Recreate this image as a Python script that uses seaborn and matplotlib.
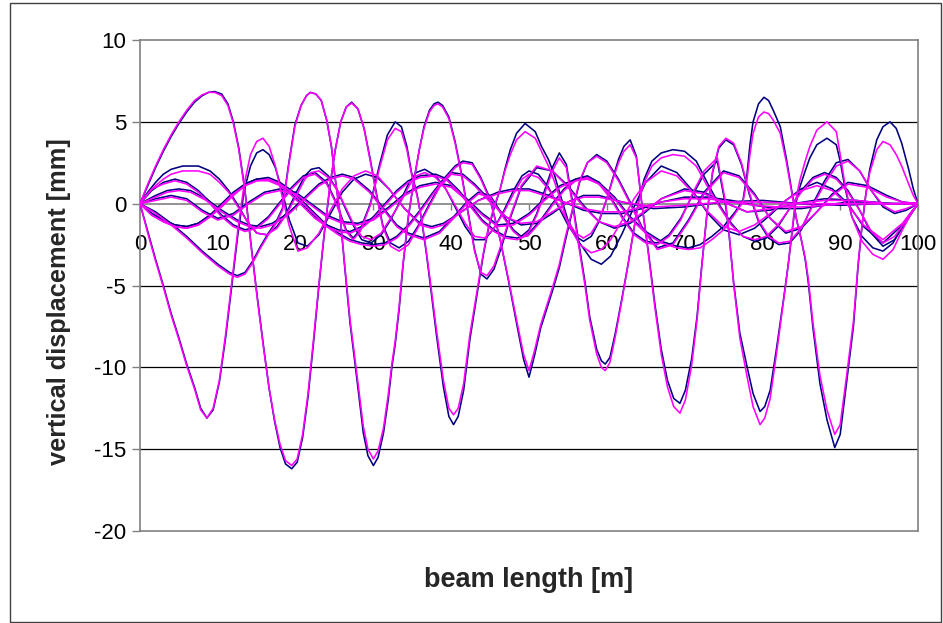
import matplotlib
matplotlib.use("Agg")
import matplotlib.pyplot as plt
from matplotlib.patches import Rectangle
import pandas as pd
import seaborn as sns

# ---- deflection lines of the beam, one pair (measured / computed) per load position ----
x_load1 = [0, 1, 2, 3, 4, 5, 6, 7, 7.8, 8.6, 9.4, 10.2, 11, 11.8, 12.6, 13.4, 14.2, 15, 15.8, 16.6,
           17.4, 18.2, 19.2, 20.3, 21.5, 23, 24.5, 26, 27.5, 29, 30.5, 32, 34, 36, 37.5, 39, 41, 43.5, 46, 48,
           50, 52, 54.5, 57, 59.5, 62, 64.5, 67, 70, 73, 76, 79, 82, 85, 88, 91, 94, 97, 100]
measured_load1 = [0, -1.7, -3.4, -5.0, -6.7, -8.2, -9.8, -11.2, -12.5, -13.1, -12.6, -10.9, -8.2, -5.0, -1.8, 0.8, 2.3, 3.1, 3.3, 3.0,
                  2.2, 0.9, -1.0, -2.4, -2.6, -1.9, -0.6, 0.7, 1.5, 1.8, 1.6, 0.9, -0.3, -1.2, -1.4, -1.2, -0.6, 0.2, 0.7, 0.9,
                  0.9, 0.6, 0.1, -0.4, -0.6, -0.6, -0.3, 0.1, 0.4, 0.4, 0.2, -0.1, -0.3, -0.3, -0.1, 0.1, 0.1, 0.0, 0]
computed_load1 = [0, -1.8, -3.5, -5.1, -6.8, -8.3, -9.9, -11.3, -12.6, -13.1, -12.5, -10.8, -8.0, -4.8, -1.5, 1.2, 3.0, 3.8, 4.0, 3.5,
                  2.3, 0.6, -1.4, -2.9, -2.7, -1.8, -0.4, 0.9, 1.7, 2.0, 1.7, 0.9, -0.3, -1.3, -1.5, -1.3, -0.6, 0.2, 0.6, 0.8,
                  0.8, 0.5, 0.1, -0.3, -0.5, -0.5, -0.2, 0.1, 0.3, 0.3, 0.1, -0.1, -0.2, -0.2, -0.1, 0.0, 0.0, 0.0, 0]

x_load2 = [0, 1, 2, 3, 4, 5, 6, 7, 8, 8.8, 9.6, 10.5, 11.3, 12, 12.7, 13.5, 14.3, 15.1, 15.9, 16.6,
           17.3, 18, 18.7, 19.5, 20.2, 20.9, 21.6, 22.3, 23, 23.7, 24.4, 25.1, 25.8, 26.5, 27.2, 28, 28.8, 29.6, 30.4, 31.2,
           32.2, 33.3, 34.5, 35.7, 37, 38.5, 40, 41.5, 43, 45, 47, 49, 51, 53, 55, 57, 59, 62, 66, 70,
           75, 80, 85, 90, 95, 100]
measured_load2 = [0, 1.1, 2.2, 3.2, 4.1, 4.9, 5.6, 6.2, 6.6, 6.8, 6.85, 6.7, 6.1, 5.0, 3.4, 0.8, -2.6, -5.8, -8.8, -11.3,
                  -13.3, -14.9, -15.9, -16.2, -15.8, -14.3, -11.8, -8.5, -5.0, -1.8, 1.0, 3.3, 5.0, 5.9, 6.2, 5.8, 4.6, 2.7, 0.6, -1.3,
                  -2.4, -2.7, -2.3, -1.4, -0.2, 1.1, 1.9, 1.8, 1.2, 0.2, -0.8, -1.3, -1.2, -0.6, 0.1, 0.5, 0.5, 0.1, -0.3, -0.2,
                  0.1, 0.2, 0.0, -0.1, 0.0, 0]
computed_load2 = [0, 1.2, 2.3, 3.3, 4.2, 5.0, 5.7, 6.3, 6.65, 6.8, 6.8, 6.6, 6.0, 4.9, 3.3, 0.7, -2.7, -5.9, -8.9, -11.3,
                  -13.2, -14.7, -15.7, -16.0, -15.6, -14.1, -11.6, -8.3, -4.9, -1.7, 1.1, 3.3, 5.0, 5.9, 6.15, 5.8, 4.6, 2.6, 0.5, -1.4,
                  -2.6, -2.9, -2.5, -1.5, -0.3, 1.0, 1.8, 1.7, 1.1, 0.1, -0.8, -1.2, -1.1, -0.5, 0.1, 0.4, 0.4, 0.1, -0.2, -0.1,
                  0.1, 0.1, 0.0, 0.0, 0.0, 0]

x_load3 = [0, 2, 4, 6, 8, 10, 11.5, 12.5, 13.5, 14.5, 15.5, 16.5, 17.5, 18.3, 19.1, 19.9, 20.7, 21.4, 21.9, 22.6,
           23.3, 24, 24.6, 25.1, 25.7, 26.3, 27, 27.9, 28.7, 29.3, 30, 30.6, 31.3, 31.9, 32.4, 32.8, 33.3, 33.8, 34.5, 35.2,
           35.9, 36.5, 37.2, 37.8, 38.3, 38.9, 39.7, 40.5, 41.3, 42.2, 43, 43.8, 44.6, 45.5, 46.5, 47.5, 49, 51, 53, 55,
           57, 59, 61, 63, 65, 67, 70, 72.5, 75, 78, 81, 84, 88, 92, 96, 100]
measured_load3 = [0, -0.5, -1.2, -2.0, -2.9, -3.7, -4.2, -4.4, -4.2, -3.5, -2.6, -1.8, -1.1, -0.3, 2.4, 4.8, 6.0, 6.6, 6.8, 6.7,
                  6.3, 5.1, 3.5, 1.5, -0.6, -3.8, -7.3, -10.8, -14.0, -15.4, -16.0, -15.5, -14.0, -12.0, -9.9, -8.6, -6.5, -3.8, -0.8, 1.4,
                  3.3, 4.7, 5.7, 6.1, 6.2, 6.0, 5.3, 3.8, 1.9, -0.6, -2.8, -4.3, -4.6, -4.0, -2.6, -1.0, 1.0, 2.2, 2.0, 1.1,
                  -0.1, -1.1, -1.5, -1.2, -0.5, 0.3, 0.9, 0.7, 0.1, -0.5, -0.4, 0.0, 0.3, 0.2, 0.0, 0]
computed_load3 = [0, -0.6, -1.3, -2.1, -3.0, -3.8, -4.3, -4.5, -4.3, -3.6, -2.7, -1.9, -1.2, -0.4, 2.3, 4.7, 6.0, 6.6, 6.8, 6.7,
                  6.3, 5.1, 3.5, 1.5, -0.6, -3.7, -7.1, -10.5, -13.6, -15.0, -15.6, -15.1, -13.7, -11.7, -9.7, -8.4, -6.3, -3.7, -0.7, 1.4,
                  3.3, 4.6, 5.6, 6.0, 6.1, 5.9, 5.2, 3.7, 1.8, -0.7, -2.9, -4.2, -4.4, -3.8, -2.4, -0.9, 1.1, 2.3, 2.0, 1.0,
                  -0.2, -1.1, -1.4, -1.1, -0.4, 0.3, 0.8, 0.6, 0.1, -0.5, -0.3, 0.0, 0.2, 0.2, 0.0, 0]

x_load4 = [0, 1.5, 3, 4.5, 6, 7.5, 9, 10.5, 12, 13.5, 15, 16.5, 18, 19.5, 21, 22.5, 24, 25.3, 26.5, 27.4,
           28.3, 29.6, 30.8, 31.8, 32.8, 33.6, 34.3, 34.9, 35.6, 36.2, 36.8, 37.3, 38.1, 39, 39.7, 40.3, 40.9, 41.6, 42.4, 43.3,
           44.1, 44.8, 45.5, 46.3, 46.9, 47.6, 48.4, 49.5, 50.8, 51.6, 52.5, 53.3, 54.2, 55, 56.5, 58, 59.3, 60.5, 62, 63.5,
           65, 67, 69, 71, 73, 75, 77, 79, 81, 83, 85, 87, 89, 91, 93, 95.5, 98, 100]
measured_load4 = [0, 0.8, 1.3, 1.5, 1.3, 0.8, 0.1, -0.7, -1.3, -1.6, -1.4, -0.8, 0.1, 1.0, 1.7, 1.9, 1.3, 0.0, -1.6, -2.1,
                  -1.6, 0.0, 2.4, 4.2, 5.0, 4.7, 3.5, 1.9, 0.6, -1.0, -3.0, -4.9, -8.0, -11.2, -13.0, -13.5, -13.0, -11.4, -8.3, -5.6,
                  -3.2, -1.5, -0.3, 0.9, 2.1, 3.3, 4.3, 4.9, 4.4, 3.5, 2.7, 1.7, 0.25, -1.0, -2.4, -3.4, -3.7, -3.2, -1.8, -0.2,
                  1.3, 2.3, 1.9, 0.8, -0.6, -1.6, -1.9, -1.5, -0.7, 0.2, 0.9, 1.3, 0.9, 0.0, -1.4, -2.4, -1.3, 0]
computed_load4 = [0, 0.9, 1.2, 1.4, 1.2, 0.7, 0.0, -0.8, -1.4, -1.7, -1.5, -0.9, 0.0, 0.9, 1.6, 1.8, 1.2, -0.1, -1.7, -2.2,
                  -1.7, -0.1, 2.2, 3.9, 4.6, 4.4, 3.3, 1.8, 0.5, -0.9, -2.9, -4.7, -7.7, -10.8, -12.5, -12.9, -12.5, -11.0, -8.0, -5.4,
                  -3.1, -1.4, -0.2, 0.9, 2.0, 3.0, 3.9, 4.4, 4.0, 3.2, 2.3, 1.3, 0.0, -1.2, -2.5, -3.0, -2.8, -2.2, -1.0, 0.3,
                  1.3, 2.0, 1.7, 0.7, -0.5, -1.4, -1.7, -1.3, -0.6, 0.2, 0.8, 1.1, 0.8, -0.1, -1.3, -2.2, -1.2, 0]

x_load5 = [0, 1.5, 3, 4.5, 6, 7.5, 9, 10.5, 12, 13.5, 15, 16.5, 18, 19.5, 21, 22.5, 24, 25.5, 27, 28.5,
           30, 31.5, 33, 34.5, 36, 37.5, 39, 40.5, 41.5, 42.7, 43.8, 45, 46.3, 47.4, 48.4, 49.3, 50, 50.7, 51.5, 52.3,
           53.1, 53.9, 54.7, 55.6, 56.5, 57.5, 58.7, 60, 61.5, 63, 64.5, 66.5, 68.5, 70.5, 72.5, 75, 77, 79, 81, 83,
           85, 87, 89, 91, 93.5, 96, 98, 100]
measured_load5 = [0, -0.6, -1.0, -1.3, -1.4, -1.2, -0.7, -0.1, 0.6, 1.2, 1.5, 1.6, 1.3, 0.8, 0.1, -0.6, -1.3, -1.8, -2.2, -2.4,
                  -2.5, -2.4, -2.0, -1.3, -0.4, 0.6, 1.5, 2.3, 2.6, 2.5, 1.6, 0.3, -2.2, -4.8, -7.3, -9.5, -10.6, -9.3, -7.6, -6.4,
                  -5.2, -3.9, -2.2, -0.4, 1.3, 2.5, 3.0, 2.6, 1.5, 0.1, -1.4, -2.7, -2.4, -1.0, 0.7, 2.0, 1.7, 0.6, -0.9, -1.8,
                  -1.5, -0.5, 0.6, 1.3, 1.1, 0.5, 0.1, 0]
computed_load5 = [0, -0.7, -1.1, -1.4, -1.5, -1.3, -0.8, -0.2, 0.5, 1.1, 1.4, 1.5, 1.2, 0.7, 0.0, -0.7, -1.4, -1.9, -2.3, -2.5,
                  -2.6, -2.5, -2.1, -1.4, -0.5, 0.5, 1.4, 2.2, 2.5, 2.4, 1.5, 0.2, -2.2, -4.7, -7.1, -9.2, -10.2, -9.0, -7.4, -6.2,
                  -5.0, -3.7, -2.0, -0.3, 1.4, 2.5, 2.9, 2.5, 1.4, 0.0, -1.5, -2.8, -2.5, -1.1, 0.6, 1.9, 1.6, 0.5, -0.9, -1.7,
                  -1.4, -0.5, 0.5, 1.2, 1.0, 0.4, 0.1, 0]

x_load6 = [0, 2, 3.5, 5, 6.5, 8.5, 10.5, 12.5, 14, 15.5, 17, 19, 21, 23, 24.5, 26, 27.5, 29.5, 31.5, 33,
           34.5, 36.5, 38.5, 40.5, 42, 43.5, 45, 46.5, 48, 49, 50, 51, 52, 53, 53.9, 54.8, 55.7, 56.3, 57.2, 57.8,
           58.7, 59.3, 59.8, 60.4, 61.1, 61.9, 62.7, 63.4, 64.1, 64.8, 65.8, 67, 68.5, 70, 71.5, 73, 74.5, 76, 77.5, 79,
           80.5, 82, 83.5, 85, 86.5, 88, 89.5, 91, 92.5, 94, 95.5, 97, 98.5, 100]
measured_load6 = [0, 0.5, 0.8, 0.9, 0.8, 0.3, -0.4, -1.0, -1.3, -1.4, -1.2, -0.6, 0.3, 1.2, 1.6, 1.8, 1.6, 0.8, -0.4, -1.3,
                  -1.8, -2.1, -1.7, -0.7, 0.1, 0.7, 0.5, -0.6, -1.6, -2.0, -1.6, -0.6, 0.8, 2.2, 3.1, 2.4, -0.2, -2.1, -4.8, -6.9,
                  -8.9, -9.6, -9.8, -9.4, -7.9, -5.9, -3.8, -1.8, 0.2, 1.5, 2.6, 3.1, 3.3, 3.2, 2.6, 1.2, -0.1, -1.2, -2.0, -2.3,
                  -2.1, -1.4, -0.3, 0.8, 1.6, 1.9, 1.6, 0.8, -0.4, -1.8, -2.6, -2.2, -1.1, 0]
computed_load6 = [0, 0.4, 0.7, 0.8, 0.7, 0.2, -0.5, -1.1, -1.4, -1.5, -1.3, -0.7, 0.2, 1.1, 1.5, 1.7, 1.5, 0.7, -0.5, -1.4,
                  -1.9, -2.2, -1.8, -0.8, 0.0, 0.6, 0.4, -0.7, -1.7, -2.1, -1.7, -0.7, 0.6, 2.0, 2.8, 2.2, -0.4, -2.3, -5.0, -7.1,
                  -9.2, -10.0, -10.2, -9.7, -8.1, -6.0, -3.8, -1.8, 0.1, 1.3, 2.3, 2.8, 3.0, 2.9, 2.3, 1.0, -0.2, -1.3, -2.0, -2.2,
                  -2.0, -1.3, -0.3, 0.7, 1.5, 1.8, 1.5, 0.7, -0.4, -1.7, -2.4, -2.0, -1.0, 0]

x_load7 = [0, 1, 2, 3, 4, 5.5, 7.5, 9, 10.2, 11.4, 12.6, 13.8, 15, 16.3, 17.6, 18.9, 20.2, 21.2, 22, 23,
           24.2, 25.4, 26.5, 27.5, 28.5, 29.7, 31, 32.2, 33.5, 34.6, 35.5, 36.6, 38, 39.3, 40.5, 41.8, 43, 44.3, 45.5, 46.8,
           48, 49.1, 50, 51.2, 52.5, 53.8, 55, 56, 57, 58, 59, 60, 60.8, 61.5, 62.2, 63, 63.8, 64.5, 65.3, 66.2,
           67, 67.8, 68.6, 69.4, 70.1, 70.9, 71.6, 72.2, 72.9, 73.6, 74.4, 75.3, 76.3, 77.3, 78.3, 79.5, 80.8, 82.1, 83.5, 85,
           86.5, 88, 89.5, 91, 92.5, 94, 95.5, 97, 98.5, 100]
measured_load7 = [0, 0.7, 1.3, 1.8, 2.1, 2.3, 2.3, 2.0, 1.5, 0.8, -0.1, -1.1, -1.8, -1.9, -1.4, -0.5, 0.8, 1.7, 2.1, 2.2,
                  1.7, 0.8, -0.4, -1.4, -2.2, -2.4, -1.9, -1.0, 0.2, 1.3, 1.9, 2.1, 1.7, 0.9, -0.2, -1.4, -2.2, -2.2, -1.5, -0.4,
                  0.8, 1.7, 2.0, 1.8, 1.0, -0.2, -1.3, -2.0, -2.3, -2.0, -1.1, 0.3, 1.6, 2.7, 3.5, 3.9, 2.9, 0.0, -2.8, -6.2,
                  -8.9, -10.8, -11.9, -12.2, -11.4, -9.5, -6.9, -3.8, -0.5, 1.9, 3.4, 3.9, 3.6, 2.4, 0.6, -1.1, -2.1, -2.5, -2.4, -1.6,
                  0.0, 1.4, 2.5, 2.7, 2.0, 0.8, -0.2, -0.6, -0.4, 0]
computed_load7 = [0, 0.6, 1.1, 1.5, 1.8, 2.0, 2.0, 1.8, 1.3, 0.7, -0.2, -1.1, -1.8, -1.9, -1.5, -0.6, 0.6, 1.5, 1.9, 2.0,
                  1.6, 0.8, -0.3, -1.3, -2.0, -2.2, -1.8, -0.9, 0.1, 1.1, 1.7, 1.9, 1.6, 0.9, -0.1, -1.2, -2.0, -2.1, -1.5, -0.5,
                  0.6, 1.5, 1.8, 1.6, 0.9, -0.1, -1.1, -1.8, -2.1, -1.8, -1.0, 0.3, 1.5, 2.5, 3.2, 3.6, 2.8, 0.0, -2.9, -6.4,
                  -9.2, -11.2, -12.4, -12.8, -12.0, -9.9, -7.1, -3.9, -0.5, 2.0, 3.5, 4.0, 3.7, 2.5, 0.7, -1.0, -2.0, -2.4, -2.3, -1.5,
                  -0.1, 1.2, 2.3, 2.6, 2.0, 0.8, -0.1, -0.5, -0.3, 0]

x_load8 = [0, 1.5, 3, 4.5, 6, 7.5, 9, 10.5, 12, 13.5, 15, 16.5, 18, 19.5, 21, 22.5, 24, 25.5, 27, 28.5,
           30, 31.5, 33, 34.5, 36, 38, 39.5, 41, 42.5, 44, 45.5, 47, 48.5, 50, 51.5, 53, 54.5, 56, 57.5, 59,
           60.5, 62, 63.5, 65, 66.5, 68, 69.5, 71, 72.5, 74.2, 75.3, 75.7, 76.3, 77.1, 78, 78.8, 79.7, 80.3, 81, 81.8,
           82.7, 83.3, 83.8, 84.2, 84.8, 85.5, 86.1, 87, 88.3, 89.5, 90, 90.6, 91.5, 92.8, 94.2, 95.5, 96.8, 98, 99, 100]
measured_load8 = [0, -0.6, -1.0, -1.3, -1.4, -1.2, -0.7, 0.0, 0.7, 1.2, 1.5, 1.5, 1.2, 0.6, -0.1, -0.8, -1.3, -1.6, -1.7, -1.4,
                  -0.8, 0.0, 0.8, 1.4, 1.7, 1.8, 1.5, 0.8, -0.1, -1.0, -1.6, -2.0, -2.1, -1.8, -1.0, 0.0, 0.9, 1.5, 1.7, 1.3,
                  0.4, -0.8, -1.8, -2.3, -2.4, -1.9, -0.9, 0.5, 1.8, 2.6, -0.2, -1.8, -4.8, -7.9, -9.9, -11.6, -12.7, -12.4, -11.4, -8.9,
                  -5.9, -3.8, -1.8, -0.2, 1.0, 2.0, 2.8, 3.6, 4.0, 3.6, 2.6, 1.0, -0.8, -2.0, -2.7, -2.9, -2.4, -1.3, -0.6, 0]
computed_load8 = [0, -0.7, -1.1, -1.4, -1.5, -1.3, -0.8, -0.1, 0.6, 1.1, 1.4, 1.4, 1.1, 0.5, -0.2, -0.9, -1.4, -1.7, -1.8, -1.5,
                  -0.9, -0.1, 0.7, 1.3, 1.6, 1.7, 1.4, 0.7, -0.2, -1.1, -1.7, -2.1, -2.2, -1.9, -1.1, -0.1, 0.8, 1.4, 1.6, 1.2,
                  0.3, -0.9, -1.9, -2.4, -2.5, -2.0, -1.0, 0.6, 2.0, 2.8, 0.0, -1.7, -4.9, -8.2, -10.5, -12.4, -13.5, -13.1, -11.9, -9.2,
                  -6.0, -3.8, -1.7, 0.0, 1.4, 2.6, 3.5, 4.5, 5.0, 4.4, 3.0, 1.2, -0.8, -2.3, -3.1, -3.4, -2.8, -1.6, -0.7, 0]

x_load9 = [0, 2, 4, 6, 8, 10, 12, 14, 16, 18, 20, 22, 24, 26, 28, 30, 32, 34, 36, 38,
           40, 42, 44, 46, 48, 50, 52, 54, 56, 57.5, 59, 61, 63, 65, 67, 69, 70.5, 72, 73.5, 75,
           76.5, 77.5, 78, 78.4, 78.8, 79.5, 80.2, 80.8, 81.4, 82.3, 83.1, 83.8, 84.4, 85, 85.5, 85.9, 86.5, 87.4, 88.3, 89.3,
           90, 90.8, 91.7, 92.3, 92.8, 93.3, 93.8, 94.7, 95.5, 96.4, 97.2, 97.9, 98.8, 99.4, 100]
measured_load9 = [0, 0.3, 0.5, 0.3, -0.4, -0.9, -0.6, 0.1, 0.7, 0.9, 0.7, 0.0, -0.7, -1.1, -1.2, -0.9, -0.2, 0.6, 1.1, 1.3,
                  1.1, 0.3, -0.6, -1.3, -1.2, -0.6, 0.3, 1.1, 1.5, 1.6, 1.3, 0.4, -0.8, -1.7, -2.3, -2.6, -2.7, -2.5, -2.0, -1.4,
                  -0.5, 0.2, 1.7, 3.6, 5.0, 6.1, 6.5, 6.3, 5.7, 4.7, 2.7, 0.7, -1.0, -2.2, -3.4, -4.8, -7.6, -11.0, -13.2, -14.9,
                  -14.1, -11.0, -7.5, -3.8, -1.4, 0.6, 2.1, 3.9, 4.7, 5.0, 4.6, 3.7, 2.1, 0.9, 0]
computed_load9 = [0, 0.2, 0.4, 0.2, -0.5, -1.0, -0.7, 0.0, 0.6, 0.8, 0.6, -0.1, -0.8, -1.2, -1.3, -1.0, -0.3, 0.5, 1.0, 1.2,
                  1.0, 0.2, -0.7, -1.4, -1.3, -0.7, 0.2, 1.0, 1.4, 1.5, 1.2, 0.3, -0.9, -1.8, -2.4, -2.7, -2.8, -2.7, -2.2, -1.6,
                  -0.6, 0.1, 1.4, 3.0, 4.3, 5.3, 5.6, 5.5, 5.1, 4.3, 2.5, 0.6, -1.0, -2.2, -3.3, -4.6, -7.3, -10.5, -12.6, -14.1,
                  -13.5, -10.6, -7.2, -3.7, -1.3, 0.6, 1.9, 3.3, 3.8, 3.6, 3.0, 2.3, 1.2, 0.5, 0]

x_ticks = [0, 10, 20, 30, 40, 50, 60, 70, 80, 90, 100]
y_ticks = [-20, -15, -10, -5, 0, 5, 10]
x_title = "beam length [m]"
y_title = "vertical displacement [mm]"

load_cases = [
    ("load 1", x_load1, measured_load1, computed_load1),
    ("load 2", x_load2, measured_load2, computed_load2),
    ("load 3", x_load3, measured_load3, computed_load3),
    ("load 4", x_load4, measured_load4, computed_load4),
    ("load 5", x_load5, measured_load5, computed_load5),
    ("load 6", x_load6, measured_load6, computed_load6),
    ("load 7", x_load7, measured_load7, computed_load7),
    ("load 8", x_load8, measured_load8, computed_load8),
    ("load 9", x_load9, measured_load9, computed_load9),
]

rows = []
for name, xs, meas, comp in load_cases:
    assert len(xs) == len(meas) == len(comp), name
    for xv, yv in zip(xs, meas):
        rows.append({"x": xv, "y": yv, "series": "measured", "load": name})
    for xv, yv in zip(xs, comp):
        rows.append({"x": xv, "y": yv, "series": "computed", "load": name})
df = pd.DataFrame(rows)

sns.set_style("white")
plt.rcParams["font.family"] = ["Liberation Sans", "DejaVu Sans"]

W, H = 943, 623
fig = plt.figure(figsize=(W / 100, H / 100), dpi=100)
fig.patch.set_facecolor("white")
ax = fig.add_axes([140 / W, (H - 531) / H, 778 / W, 491 / H])

# horizontal gridlines
for yv in (5, -5, -10, -15):
    ax.axhline(yv, color="black", lw=0.9, zorder=0.5)
ax.axhline(-20, color="#808080", lw=1.2, zorder=0.6, clip_on=False)

sns.lineplot(data=df, x="x", y="y", hue="series", units="load", estimator=None, sort=False,
             hue_order=["measured", "computed"],
             palette={"measured": "#000080", "computed": "#FF00FF"},
             legend=False, lw=1.15, ax=ax, zorder=3)

ax.set_xlim(0, 100)
ax.set_ylim(-20, 10)
ax.set_xticks(x_ticks)
ax.set_yticks(y_ticks)
ax.set_xticklabels([str(v) for v in x_ticks])
ax.set_yticklabels([str(v) for v in y_ticks])
ax.set_xlabel("")
ax.set_ylabel("")

for side in ("top", "right", "left", "bottom"):
    ax.spines[side].set_color("#808080")
    ax.spines[side].set_linewidth(1.2)
ax.spines["bottom"].set_position(("data", 0))
ax.spines["bottom"].set_zorder(2)

ax.tick_params(axis="y", direction="out", length=6, width=1, color="#808080",
               labelsize=16, labelcolor="black", pad=4, left=True)
ax.tick_params(axis="x", direction="out", length=4, width=1, color="#808080",
               labelsize=16, labelcolor="black", pad=18, bottom=True)

fig.text(529 / W, 1 - 587 / H, x_title, ha="center", va="baseline",
         fontsize=19.5, fontweight="bold")
fig.text(59 / W, 1 - 302 / H, y_title, ha="center", va="center", rotation=90,
         fontsize=18.3, fontweight="bold")

# outer chart frame
fig.patches.append(Rectangle((9.5 / W, 1.5 / H), 931 / W, 619 / H, transform=fig.transFigure,
                             fill=False, edgecolor="#404040", lw=1.0))

fig.savefig("out.png", dpi=100, facecolor="white")
